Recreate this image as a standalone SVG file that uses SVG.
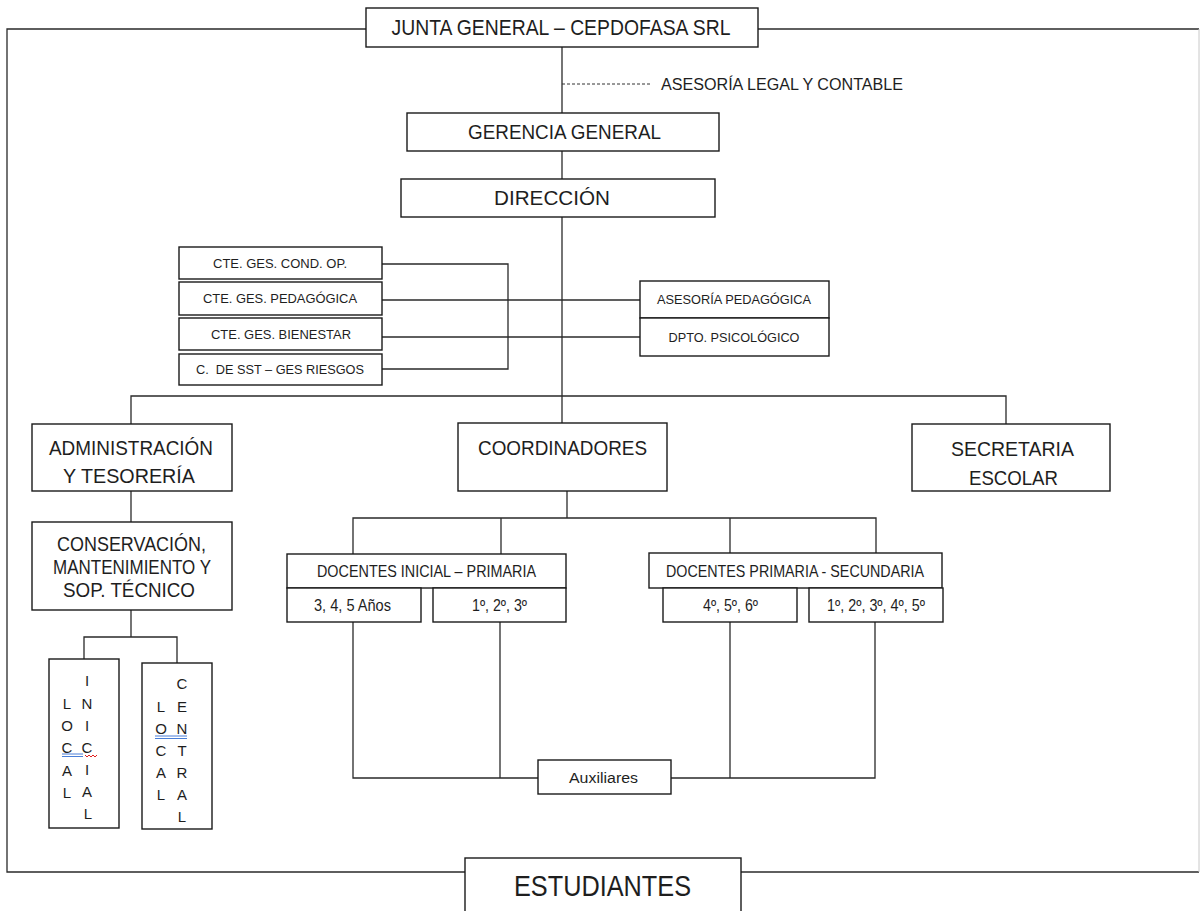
<svg xmlns="http://www.w3.org/2000/svg" width="1200" height="911" viewBox="0 0 1200 911">
<style>
.b{fill:#fff;stroke:#1a1a1a;stroke-width:1.4}
.c{fill:none;stroke:#2a2a2a;stroke-width:1.3}
.t{font-family:"Liberation Sans Narrow","Liberation Sans",Arial,sans-serif;fill:#1e1e1e;text-anchor:middle}
.l{font-family:"Liberation Sans",Arial,sans-serif;fill:#1e1e1e;text-anchor:middle;font-size:15px}
</style>
<rect width="1200" height="911" fill="#fff"/>
<g id="connectors">
<polyline class="c" points="366,29 7,29 7,872 465,872"/>
<polyline class="c" points="758,29 1199,29"/>
<polyline class="c" points="741,872 1199,872"/>
<line x1="1199" y1="29" x2="1199" y2="872" stroke="#c8c8c8" stroke-width="1"/>
<line class="c" x1="562" y1="47" x2="562" y2="113" stroke="#555"/>
<line x1="562" y1="84" x2="652" y2="84" stroke="#333" stroke-width="1" stroke-dasharray="3,2"/>
<line class="c" x1="562" y1="151" x2="562" y2="179"/>
<line class="c" x1="562" y1="217" x2="562" y2="423"/>
<polyline class="c" points="382,264 508,264 508,369 382,369"/>
<line class="c" x1="382" y1="300" x2="640" y2="300"/>
<line class="c" x1="382" y1="337" x2="640" y2="337"/>
<polyline class="c" points="131,424 131,396 1006,396 1006,424"/>
<line class="c" x1="131" y1="491" x2="131" y2="522"/>
<line class="c" x1="567" y1="491" x2="567" y2="518"/>
<polyline class="c" points="353,554 353,518 876,518 876,553"/>
<line class="c" x1="501" y1="518" x2="501" y2="554"/>
<line class="c" x1="730" y1="518" x2="730" y2="553"/>
<polyline class="c" points="353,622 353,778 538,778"/>
<line class="c" x1="500" y1="622" x2="500" y2="778"/>
<polyline class="c" points="875,622 875,778 671,778"/>
<line class="c" x1="730" y1="622" x2="730" y2="778"/>
<line class="c" x1="131" y1="610" x2="131" y2="637"/>
<polyline class="c" points="84,663 84,637 177,637 177,663"/>
</g>
<g id="junta"><rect class="b" x="366" y="8" width="392" height="39"/><text class="t" x="561" y="35.4" font-size="22" textLength="339" lengthAdjust="spacingAndGlyphs">JUNTA GENERAL – CEPDOFASA SRL</text></g>
<g id="asesoria-legal"><text class="t" x="782" y="89.7" font-size="16" textLength="242" lengthAdjust="spacingAndGlyphs">ASESORÍA LEGAL Y CONTABLE</text></g>
<g id="gerencia"><rect class="b" x="407" y="113" width="312" height="38"/><text class="t" x="564.5" y="139.2" font-size="20" textLength="193" lengthAdjust="spacingAndGlyphs">GERENCIA GENERAL</text></g>
<g id="direccion"><rect class="b" x="401" y="179" width="314" height="38"/><text class="t" x="552" y="205.2" font-size="20" textLength="116" lengthAdjust="spacingAndGlyphs">DIRECCIÓN</text></g>
<g id="cte-cond"><rect class="b" x="179" y="247" width="203" height="32"/><text class="t" x="280" y="267.8" font-size="13.5" textLength="134" lengthAdjust="spacingAndGlyphs">CTE. GES. COND. OP.</text></g>
<g id="cte-ped"><rect class="b" x="179" y="282" width="203" height="33"/><text class="t" x="280" y="303.3" font-size="13.5" textLength="154" lengthAdjust="spacingAndGlyphs">CTE. GES. PEDAGÓGICA</text></g>
<g id="cte-bien"><rect class="b" x="179" y="318" width="203" height="32"/><text class="t" x="281" y="338.8" font-size="13.5" textLength="140" lengthAdjust="spacingAndGlyphs">CTE. GES. BIENESTAR</text></g>
<g id="cte-sst"><rect class="b" x="179" y="354" width="203" height="31"/><text class="t" x="280" y="374.3" font-size="13.5" textLength="168" lengthAdjust="spacingAndGlyphs" xml:space="preserve">C.  DE SST – GES RIESGOS</text></g>
<g id="asesoria-ped"><rect class="b" x="640" y="281" width="189" height="37"/><text class="t" x="734" y="304.3" font-size="13.5" textLength="154" lengthAdjust="spacingAndGlyphs">ASESORÍA PEDAGÓGICA</text></g>
<g id="dpto"><rect class="b" x="640" y="318" width="189" height="38"/><text class="t" x="734" y="341.8" font-size="13.5" textLength="131" lengthAdjust="spacingAndGlyphs">DPTO. PSICOLÓGICO</text></g>
<g id="admin"><rect class="b" x="32" y="424" width="200" height="67"/><text class="t" x="131" y="454.5" font-size="21" textLength="164" lengthAdjust="spacingAndGlyphs">ADMINISTRACIÓN</text><text class="t" x="129" y="482.5" font-size="21" textLength="132" lengthAdjust="spacingAndGlyphs">Y TESORERÍA</text></g>
<g id="coordinadores"><rect class="b" x="458" y="423" width="209" height="68"/><text class="t" x="562.5" y="454.5" font-size="21" textLength="169" lengthAdjust="spacingAndGlyphs">COORDINADORES</text></g>
<g id="secretaria"><rect class="b" x="912" y="424" width="198" height="67"/><text class="t" x="1012.5" y="455.5" font-size="21" textLength="123" lengthAdjust="spacingAndGlyphs">SECRETARIA</text><text class="t" x="1013.5" y="484.5" font-size="21" textLength="89" lengthAdjust="spacingAndGlyphs">ESCOLAR</text></g>
<g id="conservacion"><rect class="b" x="32" y="522" width="200" height="88"/><text class="t" x="131.5" y="551.2" font-size="20" textLength="149" lengthAdjust="spacingAndGlyphs">CONSERVACIÓN,</text><text class="t" x="132" y="574.2" font-size="20" textLength="158" lengthAdjust="spacingAndGlyphs">MANTENIMIENTO Y</text><text class="t" x="129" y="597.2" font-size="20" textLength="132" lengthAdjust="spacingAndGlyphs">SOP. TÉCNICO</text></g>
<g id="docentes-ip"><rect class="b" x="287" y="554" width="279" height="34"/><text class="t" x="426.5" y="577.1" font-size="17" textLength="219" lengthAdjust="spacingAndGlyphs">DOCENTES INICIAL – PRIMARIA</text></g>
<g id="anos"><rect class="b" x="287" y="588" width="134" height="34"/><text class="t" x="352.5" y="610.7" font-size="16" textLength="77" lengthAdjust="spacingAndGlyphs">3, 4, 5 Años</text></g>
<g id="grados-ip"><rect class="b" x="433" y="588" width="133" height="34"/><text class="t" x="499.5" y="610.7" font-size="16" textLength="55" lengthAdjust="spacingAndGlyphs">1º, 2º, 3º</text></g>
<g id="docentes-ps"><rect class="b" x="649" y="553" width="293" height="35"/><text class="t" x="795" y="577.1" font-size="17" textLength="258" lengthAdjust="spacingAndGlyphs">DOCENTES PRIMARIA - SECUNDARIA</text></g>
<g id="grados-p"><rect class="b" x="663" y="588" width="134" height="34"/><text class="t" x="730.5" y="610.7" font-size="16" textLength="55" lengthAdjust="spacingAndGlyphs">4º, 5º, 6º</text></g>
<g id="grados-s"><rect class="b" x="809" y="588" width="134" height="34"/><text class="t" x="876" y="610.7" font-size="16" textLength="98" lengthAdjust="spacingAndGlyphs">1º, 2º, 3º, 4º, 5º</text></g>
<g id="auxiliares"><rect class="b" x="538" y="760" width="133" height="34"/><text class="t" x="603.5" y="783" font-size="14" textLength="69" lengthAdjust="spacingAndGlyphs">Auxiliares</text></g>
<g id="estudiantes"><rect class="b" x="465" y="858" width="276" height="70"/><text class="t" x="602.5" y="895.7" font-size="30" textLength="177" lengthAdjust="spacingAndGlyphs">ESTUDIANTES</text></g>
<g id="local-inicial"><rect class="b" x="49" y="659" width="70" height="169"/>
<text class="l" x="67" y="708.5">L</text><text class="l" x="67" y="730.5">O</text><text class="l" x="67" y="752.5">C</text><text class="l" x="67" y="775.5">A</text><text class="l" x="67" y="797.5">L</text>
<text class="l" x="87" y="685.5">I</text><text class="l" x="87" y="708.5">N</text><text class="l" x="87" y="730.5">I</text><text class="l" x="87" y="752.5">C</text><text class="l" x="87" y="774.5">I</text><text class="l" x="87" y="796.5">A</text><text class="l" x="88" y="818.5">L</text>
<line x1="62" y1="754" x2="83" y2="754" stroke="#4a7fd8" stroke-width="1"/><line x1="62" y1="756.5" x2="83" y2="756.5" stroke="#4a7fd8" stroke-width="1"/>
<polyline points="85,755 87,757 89,755 91,757 93,755 95,757 97,755" fill="none" stroke="#e02020" stroke-width="1"/>
</g>
<g id="local-central"><rect class="b" x="142" y="663" width="70" height="166"/>
<text class="l" x="161" y="711.5">L</text><text class="l" x="161" y="733.5">O</text><text class="l" x="161" y="755.5">C</text><text class="l" x="161" y="777.5">A</text><text class="l" x="161" y="799.5">L</text>
<text class="l" x="182" y="688.5">C</text><text class="l" x="182" y="711.5">E</text><text class="l" x="182" y="733.5">N</text><text class="l" x="182" y="755.5">T</text><text class="l" x="182" y="777.5">R</text><text class="l" x="182" y="799.5">A</text><text class="l" x="182" y="821.5">L</text>
<line x1="155" y1="736" x2="187" y2="736" stroke="#4a7fd8" stroke-width="1"/><line x1="155" y1="738.5" x2="187" y2="738.5" stroke="#4a7fd8" stroke-width="1"/>
</g>
</svg>
